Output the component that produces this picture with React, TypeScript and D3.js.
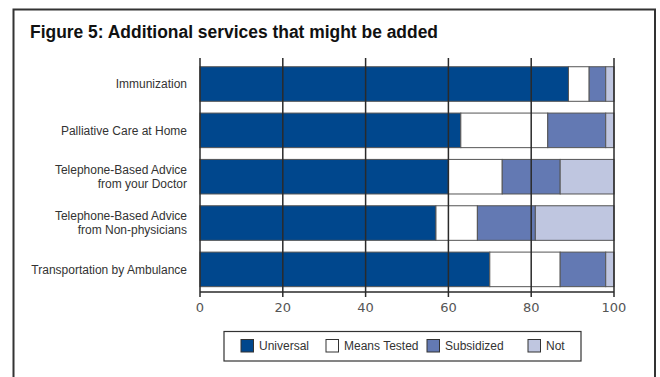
import React from "react";
import * as d3 from "d3";

const categories = [
  ["Immunization"],
  ["Palliative Care at Home"],
  ["Telephone-Based Advice", "from your Doctor"],
  ["Telephone-Based Advice", "from Non-physicians"],
  ["Transportation by Ambulance"],
];
const seriesNames = ["Universal", "Means Tested", "Subsidized", "Not"];
const universal = [89, 63, 60, 57, 70];
const meansTested = [5, 21, 13, 10, 17];
const subsidized = [4, 14, 14, 14, 11];
const notValues = [2, 2, 13, 19, 2];
const xTicks = [0, 20, 40, 60, 80, 100];
const colors = ["#00478D", "#FFFFFF", "#6379B3", "#BFC6E0"];

const title = "Figure 5: Additional services that might be added";

export default function App() {
  const width = 660;
  const height = 377;
  const x = d3.scaleLinear().domain([0, 100]).range([200, 614]);
  const keys = categories.map((_, i) => String(i));
  const y = d3.scaleBand().domain(keys).range([61.4, 292]).paddingInner(0.254).paddingOuter(0.115);

  const rows = categories.map((_, i) => ({
    key: String(i),
    s0: universal[i],
    s1: meansTested[i],
    s2: subsidized[i],
    s3: notValues[i],
  }));
  const stack = d3.stack<any>().keys(["s0", "s1", "s2", "s3"]);
  const stacked = stack(rows);

  const legendItems = [
    { x: 241, tx: 259 },
    { x: 326, tx: 344 },
    { x: 427, tx: 445 },
    { x: 528, tx: 546 },
  ];

  return (
    <svg width={width} height={height} style={{ position: "absolute", left: 0, top: 0 }}>
      <rect x={0} y={0} width={width} height={height} fill="#fff" />
      {/* frame */}
      <path d={`M13.5,${height} V9.5 H655 V${height}`} fill="none" stroke="#333" strokeWidth={2} />
      <text
        x={30}
        y={37.5}
        fontFamily="'Liberation Sans', Arial, sans-serif"
        fontWeight="bold"
        fontSize={17.5}
        textLength={408}
        lengthAdjust="spacingAndGlyphs"
        fill="#111"
      >
        {title}
      </text>

      {/* bars */}
      {stacked.map((layer, li) => (
        <g key={li}>
          {layer.map((d, i) => (
            <rect
              key={i}
              x={x(d[0])}
              y={y(keys[i])}
              width={x(d[1]) - x(d[0])}
              height={y.bandwidth()}
              fill={colors[li]}
              stroke="#555"
              strokeWidth={1}
            />
          ))}
        </g>
      ))}

      {/* gridlines */}
      {xTicks.map((t) => (
        <line key={t} x1={x(t)} x2={x(t)} y1={58} y2={292} stroke="#2a2a2a" strokeWidth={1.5} />
      ))}
      {/* axis */}
      <line x1={x(0)} x2={x(100)} y1={292} y2={292} stroke="#2a2a2a" strokeWidth={1.5} />
      {xTicks.map((t) => (
        <g key={"t" + t}>
          <line x1={x(t)} x2={x(t)} y1={292} y2={297} stroke="#2a2a2a" strokeWidth={1.5} />
          <text
            x={x(t)}
            y={312}
            textAnchor="middle"
            fontFamily="'DejaVu Sans', sans-serif"
            fontSize={13}
            fill="#555"
          >
            {t}
          </text>
        </g>
      ))}

      {/* category labels */}
      {categories.map((lines, i) => {
        const cy = (y(keys[i]) as number) + y.bandwidth() / 2;
        const lh = 14.5;
        const start = cy - ((lines.length - 1) * lh) / 2;
        return (
          <text
            key={i}
            textAnchor="end"
            fontFamily="'Liberation Sans', sans-serif"
            fontSize={12}
            fill="#333"
          >
            {lines.map((l, j) => (
              <tspan key={j} x={187} y={start + j * lh} dy="0.35em">
                {l}
              </tspan>
            ))}
          </text>
        );
      })}

      {/* legend */}
      <rect x={224} y={331.5} width={357} height={29.5} fill="#fff" stroke="#333" strokeWidth={1.2} />
      {seriesNames.map((n, i) => (
        <g key={n}>
          <rect
            x={legendItems[i].x}
            y={339.5}
            width={12.5}
            height={12.5}
            fill={colors[i]}
            stroke="#333"
            strokeWidth={1}
          />
          <text
            x={legendItems[i].tx}
            y={346}
            dy="0.35em"
            fontFamily="'Liberation Sans', sans-serif"
            fontSize={12}
            fill="#333"
          >
            {n}
          </text>
        </g>
      ))}
    </svg>
  );
}
